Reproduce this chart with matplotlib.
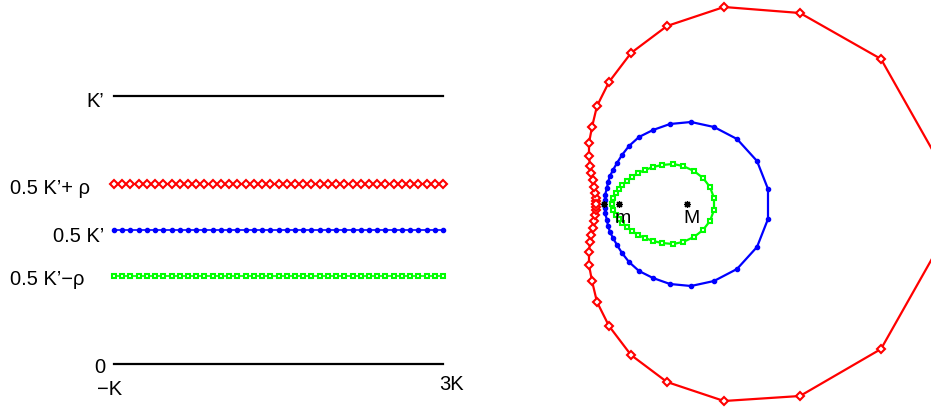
import numpy as np
import matplotlib
matplotlib.use("Agg")
import matplotlib.pyplot as plt

plt.rcParams['font.family'] = ['Liberation Sans', 'DejaVu Sans']

# left panel: horizontal lines in the strip, x in units of K, y in units of K'
x_grid = np.linspace(-1, 3, 41)
rho = 0.17
y_levels = [0.5 + rho, 0.5, 0.5 - rho]
y_bounds = [0, 1]
level_labels = ["0.5 K\u2019+ \u03c1", "0.5 K\u2019", "0.5 K\u2019\u2212\u03c1"]
bound_labels = ["0", "K\u2019"]
x_labels = ["\u2212K", "3K"]

# right panel: images of the three lines
red_u = [-0.91, -0.91, -0.91, -0.92, -0.93, -0.94, -0.96, -0.97, -0.98, -0.98,
         -0.95, -0.90, -0.78, -0.56, -0.20, 0.37, 1.13, 1.94, 2.55,
         2.55, 1.94, 1.13, 0.37, -0.20, -0.56, -0.78, -0.90, -0.95, -0.98,
         -0.98, -0.97, -0.96, -0.94, -0.93, -0.92, -0.91, -0.91, -0.91]
red_v = [0.00, 0.03, 0.06, 0.11, 0.17, 0.24, 0.31, 0.38, 0.48, 0.61,
         0.77, 0.98, 1.22, 1.51, 1.78, 1.97, 1.91, 1.45, 0.37,
         -0.37, -1.45, -1.92, -1.97, -1.78, -1.51, -1.22, -0.98, -0.77, -0.61,
         -0.48, -0.38, -0.31, -0.24, -0.17, -0.11, -0.06, -0.03, 0.00]

blue_u = [-0.83, -0.82, -0.82, -0.80, -0.79, -0.77, -0.74, -0.70, -0.65, -0.58,
          -0.48, -0.34, -0.17, 0.04, 0.27, 0.50, 0.70, 0.81,
          0.81, 0.70, 0.50, 0.27, 0.04, -0.17, -0.34, -0.48, -0.58, -0.65,
          -0.70, -0.74, -0.77, -0.79, -0.80, -0.82, -0.82, -0.83]
blue_v = [0.00, 0.04, 0.09, 0.16, 0.22, 0.28, 0.34, 0.41, 0.49, 0.58,
          0.67, 0.74, 0.80, 0.82, 0.77, 0.65, 0.43, 0.15,
          -0.15, -0.43, -0.65, -0.77, -0.82, -0.80, -0.74, -0.67, -0.58, -0.49,
          -0.41, -0.34, -0.28, -0.22, -0.16, -0.09, -0.04, 0.00]

green_u = [-0.75, -0.74, -0.71, -0.68, -0.65, -0.60, -0.55, -0.49, -0.42, -0.34,
           -0.25, -0.14, -0.04, 0.07, 0.16, 0.23, 0.27,
           0.27, 0.23, 0.16, 0.07, -0.04, -0.14, -0.25, -0.34, -0.42, -0.49,
           -0.55, -0.60, -0.65, -0.68, -0.71, -0.74, -0.75]
green_v = [0.00, 0.06, 0.11, 0.15, 0.19, 0.23, 0.27, 0.31, 0.34, 0.37,
           0.39, 0.40, 0.38, 0.33, 0.26, 0.17, 0.06,
           -0.06, -0.17, -0.26, -0.33, -0.38, -0.40, -0.39, -0.37, -0.34, -0.31,
           -0.27, -0.23, -0.19, -0.15, -0.11, -0.06, 0.00]

star_u = [-0.83, -0.68, 0.0]
star_v = [0.0, 0.0, 0.0]
star_labels = ["", "m", "M"]

fig = plt.figure(figsize=(9.31, 4.09), dpi=100)

# left panel
ax1 = fig.add_axes([0, 0, 470 / 931, 1])
ax1.set_xlim(-2.386, 3.328)
ax1.set_ylim(-0.1664, 1.356)
ax1.axis('off')

for yb in y_bounds:
    ax1.plot([x_grid[0], x_grid[-1]], [yb, yb], color='black', linewidth=1.6)

styles = [dict(color='red', marker='D', markersize=3.6, markerfacecolor='white',
               markeredgewidth=1.5),
          dict(color='blue', marker='o', markersize=3.0),
          dict(color='#00ff00', marker='s', markersize=3.4, markerfacecolor='white',
               markeredgewidth=1.5)]
for yl, st in zip(y_levels, styles):
    ax1.plot(x_grid, np.full_like(x_grid, yl), linewidth=1.2, **st)

fs = 14.5
ax1.text(-1.12, 0.958, bound_labels[1], ha='right', va='baseline', fontsize=fs)
ax1.text(-1.11, -0.031, bound_labels[0], ha='right', va='baseline', fontsize=fs)
ax1.text(-2.265, 0.634, level_labels[0], ha='left', va='baseline', fontsize=fs)
ax1.text(-1.12, 0.456, level_labels[1], ha='right', va='baseline', fontsize=fs)
ax1.text(-2.265, 0.295, level_labels[2], ha='left', va='baseline', fontsize=fs)
ax1.text(-1.06, -0.114, x_labels[0], ha='center', va='baseline', fontsize=fs)
ax1.text(3.10, -0.096, x_labels[1], ha='center', va='baseline', fontsize=fs)

# right panel
ax2 = fig.add_axes([560 / 931, 0, 371 / 931, 1])
ax2.set_xlim(-1.27, 2.44)
ax2.set_ylim(-2.05, 2.04)
ax2.axis('off')

ax2.plot(red_u, red_v, linewidth=1.6, **styles[0])
ax2.plot(blue_u, blue_v, linewidth=1.6, **styles[1])
ax2.plot(green_u, green_v, linewidth=1.6, **styles[2])
ax2.plot(star_u, star_v, linestyle='none', color='black', marker=(8, 2, 0),
         markersize=5, markeredgewidth=0.9)
for su, sv, lab in zip(star_u, star_v, star_labels):
    if lab:
        ax2.text(su - 0.04, sv - 0.19, lab, ha='left', va='baseline', fontsize=14)

fig.savefig("out.png", dpi=100)
